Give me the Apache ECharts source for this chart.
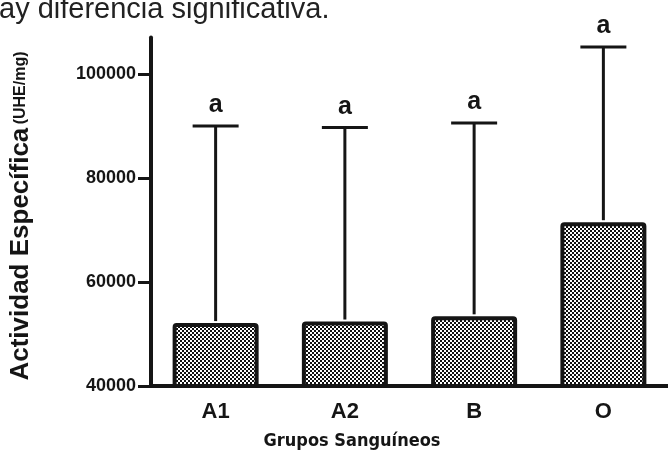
<!DOCTYPE html>
<html>
<head>
<meta charset="utf-8">
<script src="https://cdn.jsdelivr.net/npm/echarts@6/dist/echarts.min.js"></script>
<style>
  html, body { margin: 0; padding: 0; background: #fff; }
  #chart { width: 668px; height: 452px; }
</style>
</head>
<body>
<div id="chart"></div>
<script>
// Blood groups and specific activity (UHE/mg): mean and upper error limit
const categories = ['A1', 'A2', 'B', 'O'];
const meanValues = [52100, 52400, 53400, 71500];
const upperValues = [90000, 89700, 90600, 105200];
const groupLetters = ['a', 'a', 'a', 'a'];
const yTickValues = [40000, 60000, 80000, 100000];

const INK = '#151515';
const BOLD = '"Liberation Sans", Arial, sans-serif';

// fine dotted fill used for the bars
function dotPattern() {
  const c = document.createElement('canvas');
  c.width = 4; c.height = 4;
  const g = c.getContext('2d');
  g.fillStyle = '#ffffff';
  g.fillRect(0, 0, 4, 4);
  g.fillStyle = '#111111';
  g.fillRect(0, 0, 2, 2);
  g.fillRect(2, 2, 2, 2);
  return c;
}

const chart = echarts.init(document.getElementById('chart'), null, { renderer: 'canvas' });

const errorData = categories.map((c, i) => [i, meanValues[i], upperValues[i], groupLetters[i]]);

chart.setOption({
  animation: false,
  backgroundColor: '#ffffff',
  grid: { left: 151, right: -9, top: 37.6, bottom: 66, containLabel: false },
  graphic: [
    {
      type: 'text', left: -1, top: -5,
      style: { text: 'ay diferencia significativa.', font: '29px "Liberation Sans", Arial, sans-serif', fill: '#222' }
    },
    {
      // y-axis title: large main text with a smaller unit
      type: 'text', x: 21, y: 216, rotation: Math.PI / 2,
      style: {
        text: '{m|Actividad Específica} {u|(UHE/mg)}',
        align: 'center', verticalAlign: 'middle',
        rich: {
          m: { fontFamily: BOLD, fontWeight: 'bold', fontSize: 26, fill: INK },
          u: { fontFamily: BOLD, fontWeight: 'bold', fontSize: 16, fill: INK }
        }
      }
    },
    {
      type: 'text', x: 352, y: 441,
      style: {
        text: 'Grupos Sanguíneos', fill: INK,
        font: 'bold 18px "Liberation Sans Narrow", "DejaVu Sans Condensed", sans-serif',
        align: 'center', verticalAlign: 'middle'
      }
    }
  ],
  xAxis: {
    type: 'category',
    data: categories,
    axisLine: { lineStyle: { color: INK, width: 4 } },
    axisTick: { alignWithLabel: true, length: 9, lineStyle: { color: INK, width: 3 } },
    axisLabel: { color: INK, fontFamily: BOLD, fontWeight: 'bold', fontSize: 22, margin: 15 },
    splitLine: { show: false }
  },
  yAxis: {
    type: 'value',
    min: 40000, max: 107000, interval: 20000,
    axisLine: { show: true, lineStyle: { color: INK, width: 4 } },
    axisTick: { show: true, length: 13, customValues: yTickValues, lineStyle: { color: INK, width: 3 } },
    axisLabel: {
      customValues: yTickValues,
      formatter: function (v) { return String(v); },
      color: INK, fontFamily: BOLD, fontWeight: 'bold', fontSize: 18, margin: 15
    },
    splitLine: { show: false }
  },
  series: [
    {
      type: 'bar',
      data: meanValues,
      barWidth: 86,
      z: 2,
      itemStyle: {
        color: { image: dotPattern(), repeat: 'repeat' },
        borderColor: INK, borderWidth: 4, borderRadius: 2
      }
    },
    {
      type: 'custom',
      z: 3,
      data: errorData,
      renderItem: function (params, api) {
        const x = api.value(0);
        const base = api.coord([x, api.value(1)]);
        const top = api.coord([x, api.value(2)]);
        const half = 23;
        const line = { stroke: INK, lineWidth: 3 };
        return {
          type: 'group',
          children: [
            { type: 'line', shape: { x1: base[0], y1: base[1] - 2, x2: top[0], y2: top[1] }, style: line },
            { type: 'line', shape: { x1: top[0] - half, y1: top[1], x2: top[0] + half, y2: top[1] }, style: line },
            {
              type: 'text', x: top[0], y: top[1] - 8,
              style: {
                text: api.value(3), fill: INK,
                font: 'bold 25px "Liberation Sans", Arial, sans-serif',
                align: 'center', verticalAlign: 'bottom'
              }
            }
          ]
        };
      }
    }
  ]
});
</script>
</body>
</html>
